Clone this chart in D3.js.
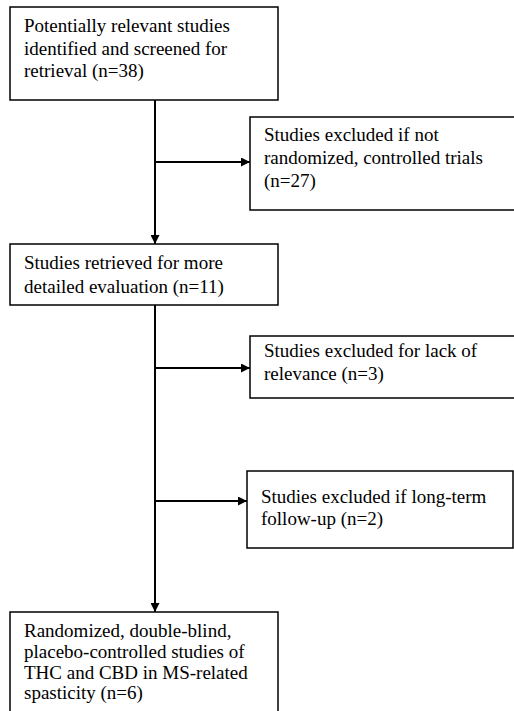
<!DOCTYPE html>
<html>
<head>
<meta charset="utf-8">
<script src="https://cdn.jsdelivr.net/npm/d3@7"></script>
<style>
  body { margin: 0; background: #fff; }
  svg { display: block; }
</style>
</head>
<body>
<script>
// box texts, one array of lines each
const mainSteps = [
  ['Potentially relevant studies', 'identified and screened for', 'retrieval (n=38)'],
  ['Studies retrieved for more', 'detailed evaluation (n=11)'],
  ['Randomized, double-blind,', 'placebo-controlled studies of', 'THC and CBD in MS-related', 'spasticity (n=6)']
];
const exclusions = [
  ['Studies excluded if not', 'randomized, controlled trials', '(n=27)'],
  ['Studies excluded for lack of', 'relevance (n=3)'],
  ['Studies excluded if long-term', 'follow-up (n=2)']
];

const width = 514, height = 711;
const svg = d3.select('body').append('svg')
  .attr('width', width)
  .attr('height', height);

svg.append('defs').append('marker')
  .attr('id', 'arrow')
  .attr('viewBox', '0 0 10 10')
  .attr('refX', 10).attr('refY', 5)
  .attr('markerWidth', 10).attr('markerHeight', 9)
  .attr('markerUnits', 'userSpaceOnUse')
  .attr('orient', 'auto')
  .append('path')
  .attr('d', 'M0,0 L10,5 L0,10 Z')
  .attr('fill', '#000');

// layout
const mainBoxes = [
  { x: 10, y: 7, w: 268, h: 93, pad: 25, lh: 22.7 },
  { x: 10, y: 244, w: 268, h: 61, pad: 25, lh: 23.5 },
  { x: 10, y: 612, w: 268, h: 120, pad: 25, lh: 20.8 }
];
const sideBoxes = [
  { x: 250, y: 117, w: 280, h: 93, pad: 24, lh: 23, arrowY: 162 },
  { x: 250, y: 336, w: 280, h: 62, pad: 21, lh: 23, arrowY: 368 },
  { x: 247, y: 471, w: 266, h: 77, pad: 32, lh: 22, arrowY: 501 }
];
const spineX = 155;

function drawBox(b, lines, textX) {
  const g = svg.append('g');
  g.append('rect')
    .attr('x', b.x).attr('y', b.y)
    .attr('width', b.w).attr('height', b.h)
    .attr('fill', '#fff')
    .attr('stroke', '#000')
    .attr('stroke-width', 1.5);
  g.append('text')
    .attr('font-family', '"Liberation Serif", "Times New Roman", serif')
    .attr('font-size', 19)
    .attr('fill', '#000')
    .selectAll('tspan')
    .data(lines)
    .enter()
    .append('tspan')
    .attr('x', textX)
    .attr('y', (d, i) => b.y + b.pad + i * b.lh)
    .text(d => d);
}

// connectors
svg.append('line')
  .attr('x1', spineX).attr('y1', mainBoxes[0].y + mainBoxes[0].h)
  .attr('x2', spineX).attr('y2', mainBoxes[1].y)
  .attr('stroke', '#000').attr('stroke-width', 2)
  .attr('marker-end', 'url(#arrow)');
svg.append('line')
  .attr('x1', spineX).attr('y1', mainBoxes[1].y + mainBoxes[1].h)
  .attr('x2', spineX).attr('y2', mainBoxes[2].y)
  .attr('stroke', '#000').attr('stroke-width', 2)
  .attr('marker-end', 'url(#arrow)');

sideBoxes.forEach(b => {
  svg.append('line')
    .attr('x1', spineX).attr('y1', b.arrowY)
    .attr('x2', b.x).attr('y2', b.arrowY)
    .attr('stroke', '#000').attr('stroke-width', 2)
    .attr('marker-end', 'url(#arrow)');
});

mainBoxes.forEach((b, i) => drawBox(b, mainSteps[i], 24));
sideBoxes.forEach((b, i) => drawBox(b, exclusions[i], b.x + 14));
</script>
</body>
</html>
